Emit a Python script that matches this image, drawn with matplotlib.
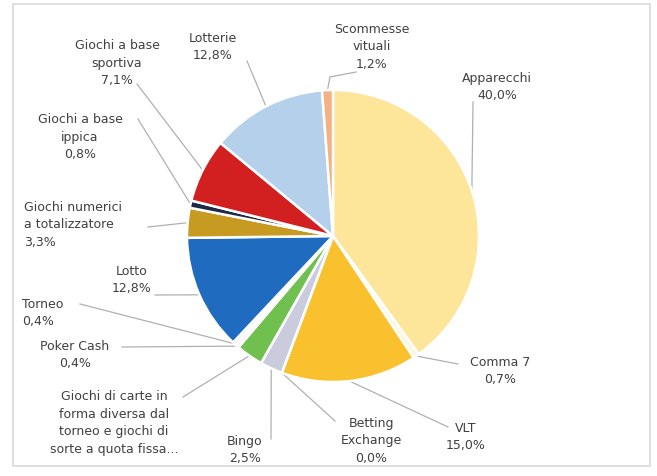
import numpy as np
import matplotlib.pyplot as plt
from matplotlib.patches import Rectangle

# dati (quote percentuali, in senso orario da ore 12)
labels = ['Apparecchi', 'Comma 7', 'VLT', 'Betting\nExchange', 'Bingo',
          'Giochi di carte in\nforma diversa dal\ntorneo e giochi di\nsorte a quota fissa...',
          'Poker Cash', 'Torneo', 'Lotto', 'Giochi numerici\na totalizzatore',
          'Giochi a base\nippica', 'Giochi a base\nsportiva', 'Lotterie',
          'Scommesse\nvituali']
values = [40.0, 0.7, 15.0, 0.0, 2.5, 3.0, 0.4, 0.4, 12.8, 3.3, 0.8, 7.1, 12.8, 1.2]
show_pct = [True, True, True, True, True, False, True, True, True, True,
            True, True, True, True]  # l'etichetta lunga e' troncata nell'originale
colors = ['#FDE59A', '#FFF6DD', '#FAC12E', '#FFFFFF', '#CACBDD', '#6FC04F',
          '#F3F3F3', '#EDEDED', '#1F6BC0', '#C79A22', '#1E2A45', '#D21F1F',
          '#B5D0EB', '#F3B184']

W, H = 657, 477
# posizione etichette (pixel, y dall'alto), allineamento, punto di partenza della linea guida
text_pos = [(497, 87), (500, 371), (466, 437), (371, 441), (245, 450), (114, 423),
            (75, 355), (22, 313), (132, 280), (24, 225), (80, 137), (117, 63),
            (213, 47), (372, 47)]
text_ha = ['center', 'center', 'center', 'center', 'center', 'center',
           'center', 'left', 'center', 'left', 'center', 'center', 'center', 'center']
lead_start = [(473, 103), (458, 365), (448, 428), (335, 422), (271, 440), (183, 398),
              (122, 348), (80, 305), (155, 296), (148, 228), (138, 120), (137, 85),
              (247, 62), (356, 73)]
lead_elbow = [None] * 13 + [(330, 78)]

fig = plt.figure(figsize=(W / 100, H / 100), dpi=100)
ax = fig.add_axes([0, 0, 1, 1])

cx, cy, R = 333, H - 237, 146
wedges, _ = ax.pie(values, colors=colors, startangle=90, counterclock=False,
                   center=(cx, cy), radius=R, frame=True,
                   wedgeprops=dict(edgecolor='white', linewidth=1.8))
ax.set_xlim(0, W)
ax.set_ylim(0, H)
ax.set_aspect('equal')
ax.axis('off')

for i, w in enumerate(wedges):
    txt = labels[i]
    if show_pct[i]:
        txt += '\n' + f'{values[i]:.1f}%'.replace('.', ',')
    tx, ty = text_pos[i]
    ax.text(tx, H - ty, txt, ha=text_ha[i], va='center', fontsize=9, color='#404040',
            linespacing=1.45, multialignment=text_ha[i])
    ang = np.deg2rad((w.theta1 + w.theta2) / 2)
    px = w.center[0] + w.r * np.cos(ang)
    py = w.center[1] + w.r * np.sin(ang)
    xs, ys = [lead_start[i][0]], [H - lead_start[i][1]]
    if lead_elbow[i] is not None:
        xs.append(lead_elbow[i][0])
        ys.append(H - lead_elbow[i][1])
    xs.append(px)
    ys.append(py)
    ax.plot(xs, ys, color='#B0B0B0', lw=0.9, zorder=0)

fig.patches.append(Rectangle((13 / W, 1 - 467 / H), 637 / W, 462 / H,
                             transform=fig.transFigure, fill=False,
                             edgecolor='#D9D9D9', lw=1.2))

fig.savefig('out.png', dpi=100)
